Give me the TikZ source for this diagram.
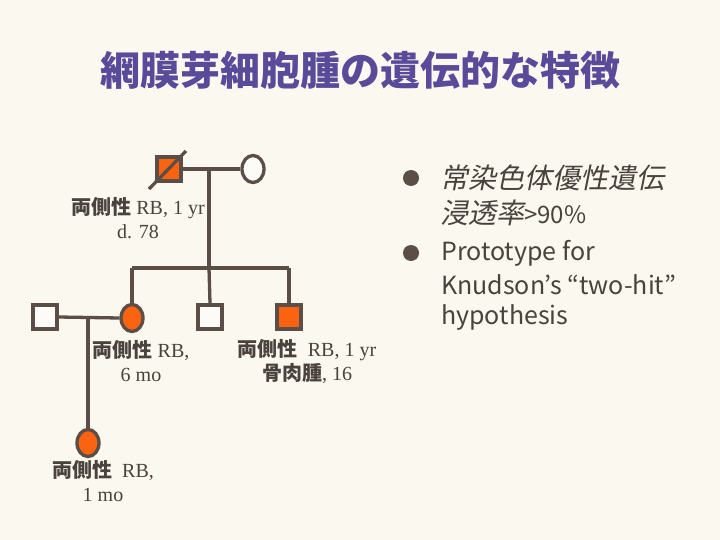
\documentclass[tikz,border=0pt]{standalone}
\usepackage{fontspec}
\setmainfont{Liberation Serif}
\newfontfamily\jpfont{Noto Sans CJK JP}
\newfontfamily\jpslant{Noto Sans CJK JP}[FakeSlant=0.2]
\newcommand\Jp[1]{{\jpfont\bfseries #1}}
\definecolor{bgc}{HTML}{FBF8F0}
\definecolor{linec}{HTML}{5A4E46}
\definecolor{affc}{HTML}{FA6410}
\definecolor{titlec}{HTML}{5A4A9A}
\definecolor{textc}{HTML}{4A423C}
\tikzset{
  male/.style={draw=linec,line width=3.3pt,rectangle,minimum size=24pt,inner sep=0pt,fill=white!50!bgc},
  female/.style={draw=linec,line width=3.3pt,ellipse,minimum width=22pt,minimum height=27pt,inner sep=0pt,fill=white!50!bgc},
  affected/.style={fill=affc},
  link/.style={draw=linec,line width=3.3pt},
  lbl/.style={text=textc,font=\fontsize{20}{24}\selectfont,align=center,inner sep=0pt},
  bul/.style={circle,fill=linec,minimum size=16pt,inner sep=0pt},
  rt/.style={text=textc,anchor=west,inner sep=0pt,font=\jpfont\fontsize{25}{32}\selectfont}
}
\usetikzlibrary{shapes.geometric}
\begin{document}
\begin{tikzpicture}[x=1pt,y=-1pt]
\useasboundingbox (0,0) rectangle (720,540);
\fill[bgc] (0,0) rectangle (720,540);
\node[text=titlec,font=\jpfont\bfseries\fontsize{40}{44}\selectfont,inner sep=0pt] (title) at (360,70) {網膜芽細胞腫の遺伝的な特徴};
% generation I
\node[male,affected] (father) at (169,169) {};
\node[female] (mother) at (253,169) {};
\coordinate (slashA) at (149,189);
\coordinate (slashB) at (186,151);
\draw[link] (slashA) -- (slashB);
% generation II
\node[female,affected] (dau) at (132,318) {};
\node[male] (son1) at (210,317) {};
\node[male,affected] (son2) at (289,317) {};
\node[male] (spouse) at (45,317) {};
% generation III
\node[female,affected] (gdau) at (88,443) {};
% connectors
\draw[link] (father.east) -- (mother.west);
\coordinate (m1) at (209,169);
\coordinate (sib) at (209,268);
\coordinate (sibL) at (132,268);
\coordinate (sibR) at (289,268);
\draw[link] (m1) -- (sib);
\draw[link] (sibL) -- (sibR);
\draw[link] (sibL) -- (dau.north);
\draw[link] (sib) -- (son1.north);
\draw[link] (sibR) -- (son2.north);
\draw[link] (spouse.east) -- (dau.west);
\coordinate (m2) at (88,317);
\draw[link] (m2) -- (gdau.north);
% labels
\node[lbl] (lf) at (138,218) {\Jp{両側性} RB, 1 yr\\d. 78};
\node[lbl] (ld) at (141,361) {\Jp{両側性} RB,\\6 mo};
\node[lbl] (ls) at (307,361) {\Jp{両側性}\ \ RB, 1 yr\\\Jp{骨肉腫}, 16};
\node[lbl] (lg) at (103,481) {\Jp{両側性}\ \ RB,\\1 mo};
% right text
\node[bul] (b1) at (411,178) {};
\node[rt,font=\jpslant\fontsize{28}{34}\selectfont] (t1) at (440,178) {常染色体優性遺伝};
\node[rt,font=\jpslant\fontsize{28}{34}\selectfont] (t2) at (440,213) {浸透率{\jpfont\fontsize{24}{30}\selectfont >90\%}};
\node[bul] (b2) at (411,253) {};
\node[rt] (t3) at (441,253) {Prototype for};
\node[rt] (t4) at (441,285) {Knudson’s “two-hit”};
\node[rt] (t5) at (441,317) {hypothesis};
\end{tikzpicture}
\end{document}
